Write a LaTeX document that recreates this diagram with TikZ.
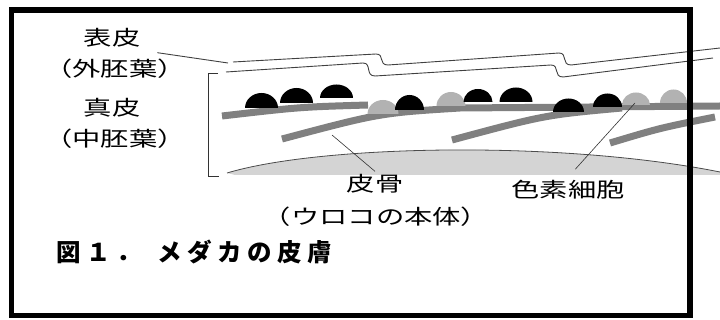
\documentclass[tikz,border=0pt]{standalone}
\usepackage{fontspec}
\usepackage{tikz}
\newfontfamily\jplabel[FakeStretch=1.38]{Noto Sans CJK JP}
\newfontfamily\jpcap[LetterSpace=22]{Noto Sans CJK JP}
% meia-elipse (celula de pigmento): x do centro, y da base, meia largura, altura, cor
\newcommand{\drawcell}[5]{
    \fill[#5] (#1-#3,#2) arc[start angle=180, end angle=360, x radius=#3, y radius=#4] -- cycle;
}

\begin{document}
\begin{tikzpicture}[x=1pt,y=-1pt,
    lbl/.style={font=\jplabel\fontsize{20.5}{24}\selectfont, inner sep=3pt},
    epi/.style={draw=black!75, line width=0.9pt},
    leader/.style={draw=black!80, line width=0.6pt},
    band/.style={draw=black!50, line width=7pt},
    bonefill/.style={fill=black!17},
    boneline/.style={draw=black!70, line width=0.8pt}]

\useasboundingbox (0,0) rectangle (720,320);

% -------------------------
% Pele (osso da escama)
% -------------------------
\fill[bonefill] (227,173) .. controls (320,145) and (560,140) .. (720,172) -- (720,175) -- (235,175) -- cycle;
\draw[boneline] (227,173) .. controls (320,145) and (560,140) .. (720,172);

% -------------------------
% Escamas (faixas cinza)
% -------------------------
\draw[band] (222,116) .. controls (300,107) .. (368,105);
\draw[band] (282,139) .. controls (380,113) .. (460,108) -- (720,106);
\draw[band] (452,140) .. controls (545,115) .. (622,108);
\draw[band] (610,143) .. controls (660,128) .. (715,117);

% -------------------------
% Celulas de pigmento
% -------------------------
\foreach \cx/\by/\rw/\ht in {383/114/15.5/14, 451/106/14.5/14, 636/105/14/12.5, 673.5/103/13.5/13.5} {
    \drawcell{\cx}{\by}{\rw}{\ht}{black!30}
}
\foreach \cx/\by/\rw/\ht in {261.5/108/16.5/15, 296.5/103/16.5/15, 336.5/98/16.5/13.5, 409.5/110/14.5/15,
        478/102/14.5/13, 516/102/16.5/14.5, 568.5/112/15.5/13.5, 607.5/107/14.5/13.5} {
    \drawcell{\cx}{\by}{\rw}{\ht}{black}
}

% -------------------------
% Epiderme (duas linhas)
% -------------------------
\draw[epi] (233,62) -- (376,54) .. controls (385,54) and (378,65) .. (388,65)
    -- (559,53) .. controls (568,53) and (561,65) .. (571,65) -- (720,48);
\draw[epi] (226,72) -- (363,63) .. controls (372,63) and (365,76) .. (375,76)
    -- (551,65) .. controls (560,65) and (553,77) .. (563,77) -- (713,58);

% colchete da derme
\draw[leader] (218,73) -- (208,73) -- (208,176) -- (219,176);

% -------------------------
% Textos
% -------------------------
\node[lbl] (epiLbl) at (112,38) {表皮};
\node[lbl] (epiSub) at (115,69) {（外胚葉）};
\node[lbl] (derLbl) at (112,108) {真皮};
\node[lbl] (derSub) at (115,139) {（中胚葉）};
\node[lbl] (boneLbl) at (375,184) {皮骨};
\node[lbl] (boneSub) at (376,217) {（ウロコの本体）};
\node[lbl] (cellLbl) at (568,190) {色素細胞};
\node[anchor=west, font=\jpcap\bfseries\fontsize{24.5}{28}\selectfont] (caption) at (53,252)
    {図１．\hspace{6pt} メダカの皮膚};

% -------------------------
% Linhas de chamada
% -------------------------
\coordinate (epiTip) at (228,63);
\coordinate (boneTip) at (332,135);
\coordinate (cellTip) at (635,103);
\draw[epi, shorten <=14pt] (epiLbl.south east) -- (epiTip);
\draw[leader] (boneLbl.north) -- (boneTip);
\draw[leader, shorten <=11pt] (cellLbl.north) -- (cellTip);

% moldura
\draw[line width=5.5pt] (11.5,10) rectangle (690,315.5);

\end{tikzpicture}
\end{document}
